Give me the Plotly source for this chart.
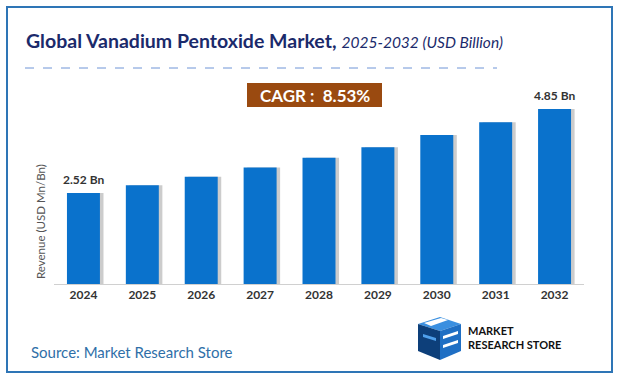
import plotly.graph_objects as go

years = ["2024", "2025", "2026", "2027", "2028", "2029", "2030", "2031", "2032"]
revenue = [2.52, 2.74, 2.97, 3.23, 3.50, 3.79, 4.13, 4.48, 4.85]
end_labels = {"2024": "2.52 Bn", "2032": "4.85 Bn"}

W, H = 618, 379
L, R, T, B = 54, 34, 100, 95
PW, PH = W - L - R, H - T - B
FONT = "Lato"

def px(x):
    return (x - L) / PW

def py(y):
    return (H - B - y) / PH

fig = go.Figure()
# subtle shadow bars
fig.add_trace(go.Bar(x=years, y=revenue, marker=dict(color="rgba(110,110,110,0.35)", line=dict(width=0)),
                     width=0.56, offset=-0.28 + 0.06, hoverinfo="skip", showlegend=False))
fig.add_trace(go.Bar(x=years, y=revenue, marker=dict(color="#0a72cc", line=dict(width=0)),
                     width=0.56, offset=-0.28, showlegend=False))

for yr, txt in end_labels.items():
    i = years.index(yr)
    fig.add_annotation(x=i, y=revenue[i], text=f"<b>{txt}</b>", showarrow=False,
                       yanchor="bottom", yshift=4, font=dict(size=12, color="#333333", family=FONT))

# title
fig.add_annotation(xref="paper", yref="paper", x=px(24), y=py(40), xanchor="left", yanchor="middle",
                   text="<b>Global Vanadium Pentoxide Market,</b> <i><span style='font-size:15.5px'>2025-2032 (USD Billion)</span></i>",
                   showarrow=False, font=dict(size=19.5, color="#1b2a6b", family=FONT))
# dashed line
fig.add_shape(type="line", xref="paper", yref="paper", x0=px(25), x1=px(497), y0=py(68), y1=py(68),
              line=dict(color="#6f94d6", width=1, dash="dash"))
# CAGR box
fig.add_shape(type="rect", xref="paper", yref="paper", x0=px(247), x1=px(382), y0=py(83), y1=py(107),
              fillcolor="#9a4a10", line=dict(width=0), layer="below")
fig.add_annotation(xref="paper", yref="paper", x=px(314.5), y=py(95), yanchor="middle", text="<b>CAGR :  8.53%</b>",
                   showarrow=False, font=dict(size=17, color="white", family=FONT))
# frame
fig.add_shape(type="rect", xref="paper", yref="paper", x0=px(7), x1=px(612), y0=py(7), y1=py(372),
              line=dict(color="#2e75b6", width=2), fillcolor="rgba(0,0,0,0)", layer="below")
# y title
fig.add_annotation(xref="paper", yref="paper", x=px(40), y=py(222), xanchor="center", yanchor="middle",
                   text="Revenue (USD Mn/Bn)", textangle=-90, showarrow=False,
                   font=dict(size=11.5, color="#555555", family=FONT))
# source
fig.add_annotation(xref="paper", yref="paper", x=px(29), y=py(352), xanchor="left", yanchor="middle",
                   text="Source: Market Research Store", showarrow=False,
                   font=dict(size=15, color="#2f6fa8", family=FONT))
# logo (approximate cube)
def poly(pts, color):
    d = "M " + " L ".join(f"{px(a)},{py(b)}" for a, b in pts) + " Z"
    fig.add_shape(type="path", xref="paper", yref="paper", path=d, fillcolor=color, line=dict(width=0))

poly([(418, 324), (440, 317), (461, 324), (440, 331)], "#3a8fe0")
poly([(418, 324), (440, 331), (440, 360), (418, 351)], "#0d3f7a")
poly([(440, 331), (461, 324), (461, 351), (440, 360)], "#1f6fc4")
poly([(424, 323), (441, 318), (448, 320), (431, 326)], "white")
poly([(443, 336), (458, 331), (458, 334), (443, 339)], "white")
poly([(443, 345), (458, 340), (458, 343), (443, 348)], "white")
poly([(423, 334), (436, 338), (436, 341), (423, 337)], "#4fa0ec")
fig.add_annotation(xref="paper", yref="paper", x=px(466), y=py(337), xanchor="left", yanchor="middle",
                   text="<b>MARKET<br>RESEARCH STORE</b>", showarrow=False, align="left",
                   font=dict(size=11, color="#111111", family=FONT))

fig.update_layout(
    width=W, height=H, margin=dict(l=L, r=R, t=T, b=B, autoexpand=False),
    paper_bgcolor="white", plot_bgcolor="rgba(0,0,0,0)", barmode="overlay",
    xaxis=dict(type="category", range=[-0.5, 8.5], automargin=False, showgrid=False, showline=True,
               linecolor="#d0d0d0", linewidth=1, ticks="", ticklen=8, tickcolor="rgba(0,0,0,0)",
               tickfont=dict(size=12, color="#333333", family=FONT), tickprefix="<b>", ticksuffix="</b>"),
    yaxis=dict(range=[0, 5.1], automargin=False, showgrid=False, showticklabels=False, zeroline=False),
)

fig.write_html("out.html", config={"displayModeBar": False},
               post_script="document.body.style.margin='0';")
